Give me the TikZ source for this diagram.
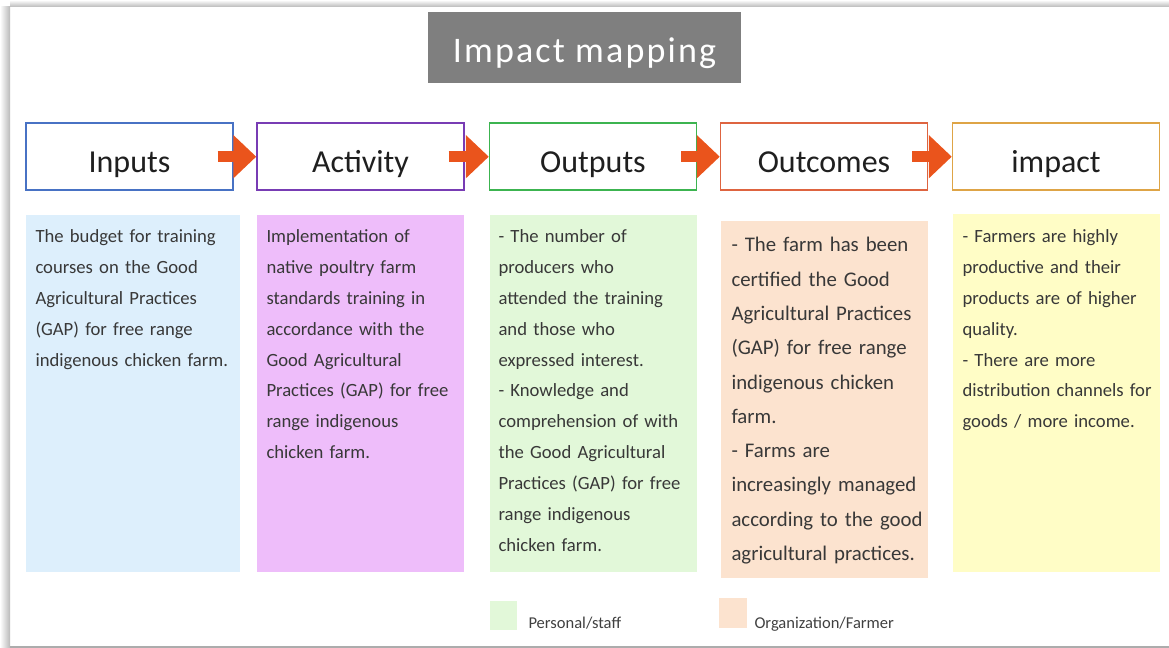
\documentclass[tikz,border=0pt]{standalone}
\usepackage{fontspec}
\setmainfont{Carlito}
\usetikzlibrary{arrows.meta}

\definecolor{titlegray}{RGB}{127,127,127}
\definecolor{arrowred}{RGB}{234,84,28}
\definecolor{inline}{RGB}{72,114,196}
\definecolor{actline}{RGB}{120,60,180}
\definecolor{outline}{RGB}{60,180,80}
\definecolor{ocline}{RGB}{222,100,64}
\definecolor{impline}{RGB}{222,164,70}
\definecolor{inbody}{RGB}{221,239,252}
\definecolor{actbody}{RGB}{238,189,250}
\definecolor{outbody}{RGB}{226,248,217}
\definecolor{ocbody}{RGB}{252,227,207}
\definecolor{impbody}{RGB}{255,253,198}

\tikzset{every picture/.style={line width=0.75pt}}
\tikzset{
  headbox/.style={draw, line width=1.1pt, fill=white, minimum width=155.25pt, minimum height=50.25pt, inner sep=0pt, text height=24pt, text depth=0pt, font=\fontsize{24}{28}\selectfont, text=black!88},
  bodybox/.style={minimum width=155.25pt, minimum height=267.75pt, inner sep=0pt},
  bodytext/.style={anchor=base west, inner sep=0pt, text width=160pt, align=left, font=\fontsize{14}{23.1}\selectfont, text=black!78},
  flowarrow/.style={draw=arrowred, line width=8.25pt, -{Triangle[length=17.25pt,width=31.5pt]}},
  legendtext/.style={anchor=base west, inner sep=0pt, font=\fontsize{12.4}{14}\selectfont, text=black!75},
}

\begin{document}
\begin{tikzpicture}[x=0.75pt,y=0.75pt,yscale=-1,xscale=1]

\useasboundingbox (0,0) rectangle (1169,648);

% slide frame
\shade [top color=white, bottom color=gray!55]  (10,0) rectangle (1169,7) ;
\shade [left color=white, right color=gray!55]  (0,7) rectangle (10,648) ;
\draw [gray!65, line width=1.5pt]  (10,647) -- (1169,647) ;

% title
\node [fill=titlegray, minimum width=234.75pt, minimum height=53.25pt, inner sep=0pt, text height=23.2pt, text depth=0pt, text=white, font=\fontsize{27}{30}\selectfont\addfontfeature{LetterSpace=6}] (title) at (584.5,47.5) {Impact mapping};

% header boxes
\node [headbox, draw=inline] (inp) at (129.5,156.7) {Inputs};
\node [headbox, draw=actline] (act) at (360.5,156.7) {Activity};
\node [headbox, draw=outline] (out) at (593,156.7) {Outputs};
\node [headbox, draw=ocline] (oc) at (824,156.7) {Outcomes};
\node [headbox, draw=impline] (imp) at (1056,156.7) {impact};

\draw [flowarrow]  ([xshift=-12pt]inp.east) -- (act.west) ;
\draw [flowarrow]  ([xshift=-12pt]act.east) -- (out.west) ;
\draw [flowarrow]  ([xshift=-12pt]out.east) -- (oc.west) ;
\draw [flowarrow]  ([xshift=-12pt]oc.east) -- (imp.west) ;

% coloured columns
\node [bodybox, fill=inbody, minimum width=160.5pt] (inpbody) at (133,393.5) {};
\node [bodybox, fill=actbody] (actbody) at (360.5,393.5) {};
\node [bodybox, fill=outbody] (outbody) at (593.5,393.5) {};
\node [bodybox, fill=ocbody] (ocbody) at (824.5,399.5) {};
\node [bodybox, fill=impbody] (impbody) at (1056.5,393) {};

\node [bodytext] (inptext) at (35,243) {The budget for training\\courses on the Good\\Agricultural Practices\\(GAP) for free range\\indigenous chicken farm.};
\node [bodytext] (acttext) at (266,243) {Implementation of\\native poultry farm\\standards training in\\accordance with the\\Good Agricultural\\Practices (GAP) for free\\range indigenous\\chicken farm.};
\node [bodytext] (outtext) at (498,243) {- The number of\\producers who\\attended the training\\and those who\\expressed interest.\\- Knowledge and\\comprehension of with\\the Good Agricultural\\Practices (GAP) for free\\range indigenous\\chicken farm.};
\node [bodytext, font=\fontsize{15.6}{25.7}\selectfont] (octext) at (731,252) {- The farm has been\\certified the Good\\Agricultural Practices\\(GAP) for free range\\indigenous chicken\\farm.\\- Farms are\\increasingly managed\\according to the good\\agricultural practices.};
\node [bodytext] (imptext) at (962,243) {- Farmers are highly\\productive and their\\products are of higher\\quality.\\- There are more\\distribution channels for\\goods / more income.};

% legend
\node [fill=outbody, minimum width=20.25pt, minimum height=21.75pt, inner sep=0pt] (perssq) at (503.5,615.5) {};
\node [legendtext] (perslabel) at (528,628) {Personal/staff};
\node [fill=ocbody, minimum width=21pt, minimum height=22.5pt, inner sep=0pt] (orgsq) at (733,613) {};
\node [legendtext] (orglabel) at (754,628) {Organization/Farmer};

\end{tikzpicture}
\end{document}
